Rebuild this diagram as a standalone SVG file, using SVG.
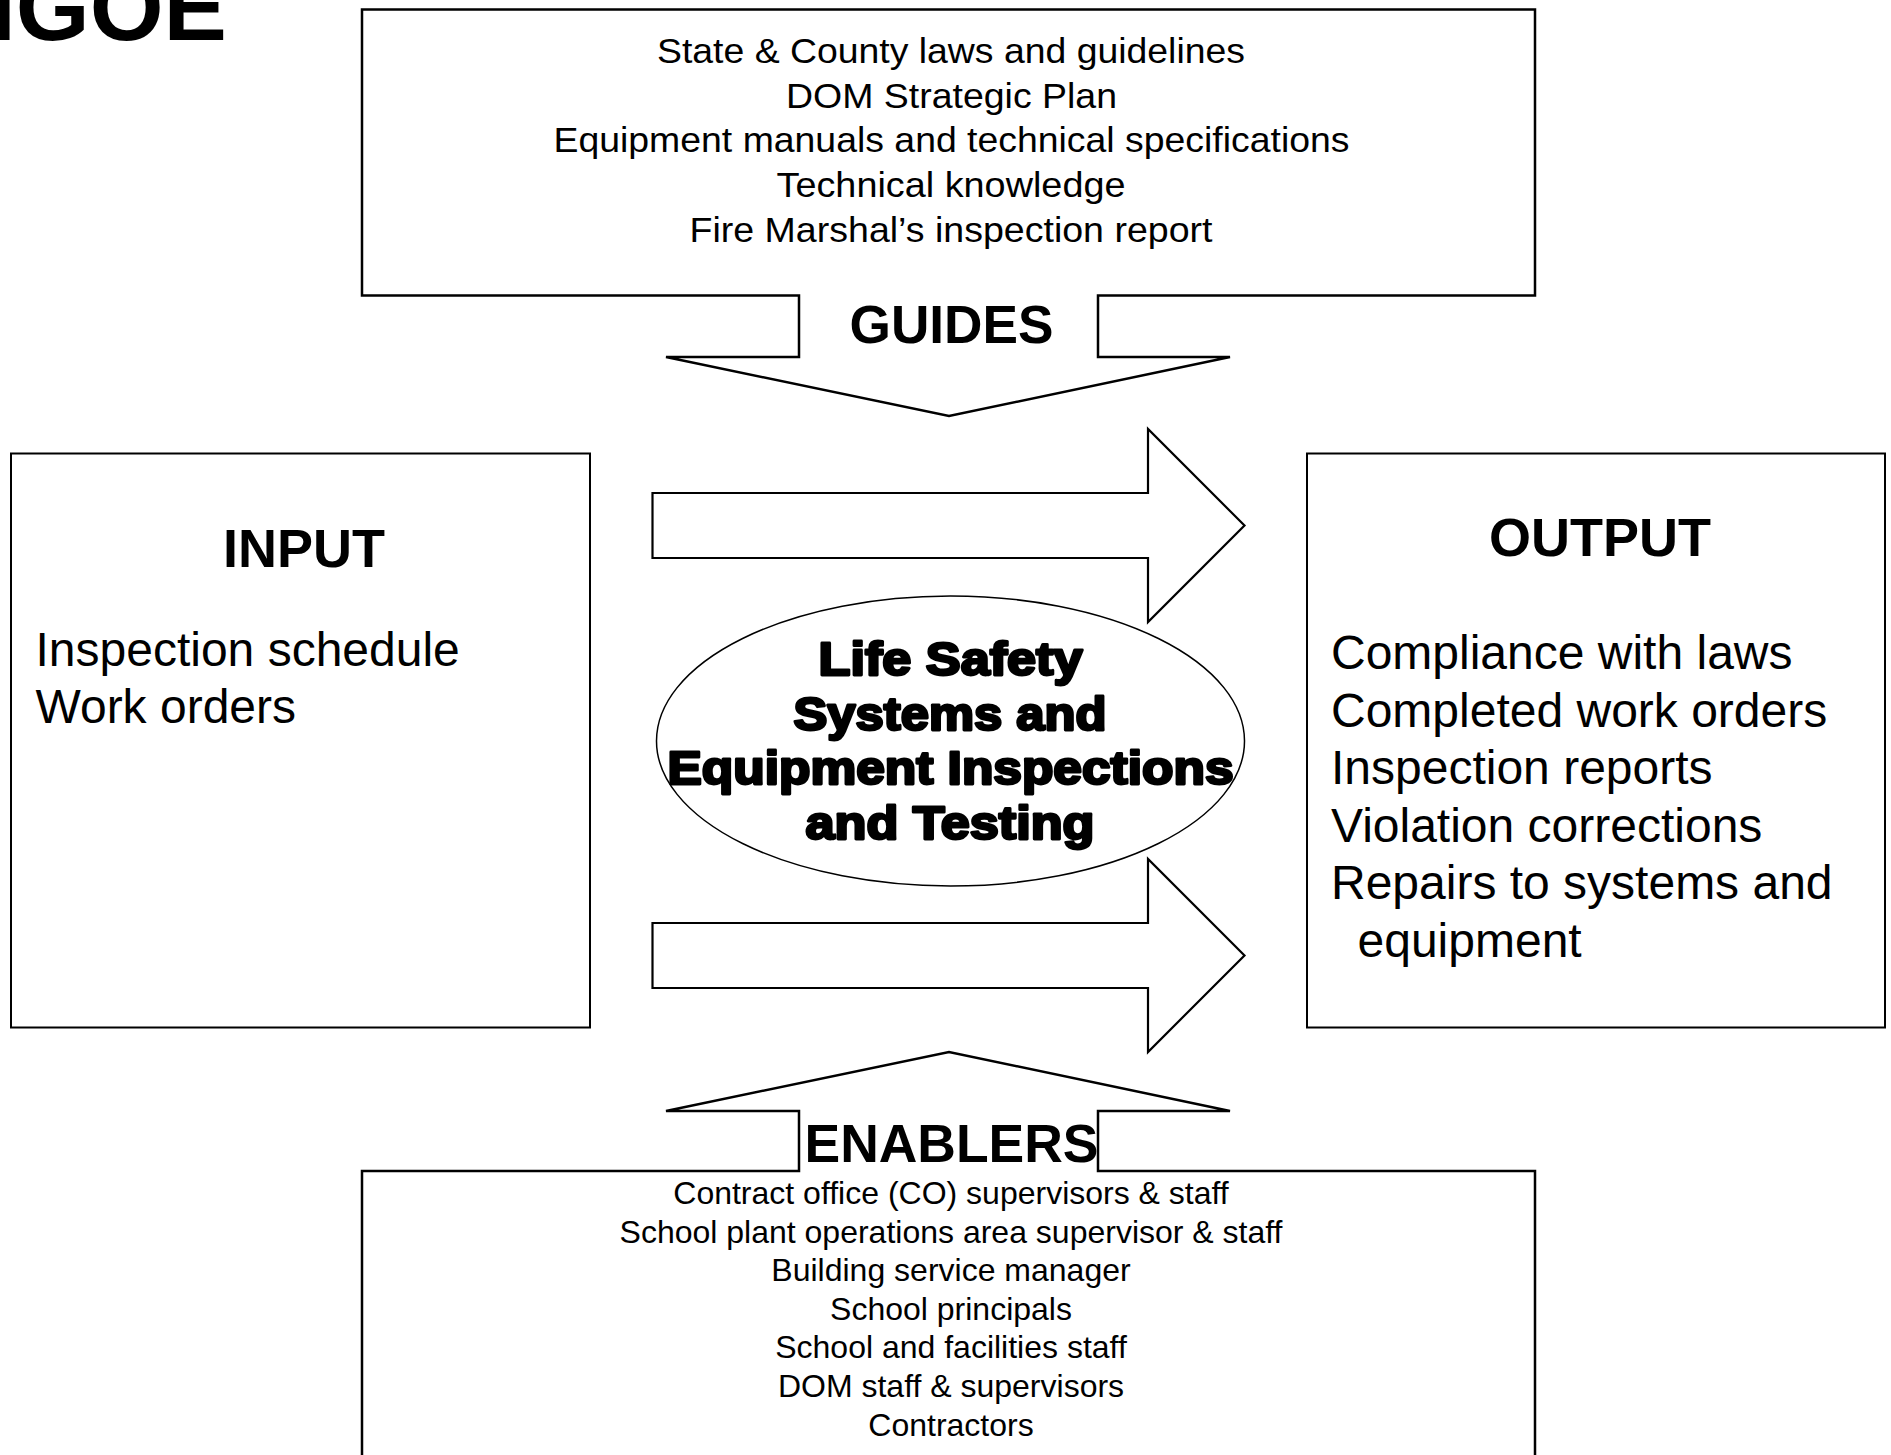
<svg xmlns="http://www.w3.org/2000/svg" width="1891" height="1455" viewBox="0 0 1891 1455">
  <style>
    text { font-family: "Liberation Sans", Arial, Helvetica, sans-serif; fill: #000; }
    .c { text-anchor: middle; }
    .b { font-weight: bold; }
    .frame { fill: #fff; stroke: #000; stroke-width: 2.5; stroke-linejoin: miter; }
    .box { fill: #fff; stroke: #000; stroke-width: 2; }
    .arrow { fill: #fff; stroke: #000; stroke-width: 2.2; stroke-linejoin: miter; }
    .oval { fill: #fff; stroke: #000; stroke-width: 1.5; }
    .guide { font-size: 35px; }
    .enab { font-size: 32px; }
    .item { font-size: 48px; }
    .title { font-size: 54px; font-weight: bold; }
    .heavy { font-size: 47px; font-weight: bold; stroke: #000; stroke-width: 2.8; stroke-linejoin: round; }
  </style>
  <rect x="0" y="0" width="1891" height="1455" fill="#fff"/>

  <g id="page-title">
    <text x="-10.6" y="40" class="b" font-size="95">IGOE</text>
  </g>

  <g id="connectors">
    <polygon class="arrow" points="652.5,493 1148,493 1148,429 1244.5,525.5 1148,622 1148,558 652.5,558"/>
    <polygon class="arrow" points="652.5,923 1148,923 1148,859 1244.5,955.5 1148,1052 1148,988 652.5,988"/>
  </g>

  <g id="guides">
    <polygon class="frame" points="362,9.6 1535,9.6 1535,295.5 1098,295.5 1098,357 1230,357 949,416 666,357 799,357 799,295.5 362,295.5"/>
    <text class="guide c" x="951" y="63" textLength="588" lengthAdjust="spacingAndGlyphs">State &amp; County laws and guidelines</text>
    <text class="guide c" x="951.5" y="107.7" textLength="331" lengthAdjust="spacingAndGlyphs">DOM Strategic Plan</text>
    <text class="guide c" x="951.5" y="152.4" textLength="796" lengthAdjust="spacingAndGlyphs">Equipment manuals and technical specifications</text>
    <text class="guide c" x="951" y="197.1" textLength="349" lengthAdjust="spacingAndGlyphs">Technical knowledge</text>
    <text class="guide c" x="951" y="241.8" textLength="523" lengthAdjust="spacingAndGlyphs">Fire Marshal’s inspection report</text>
    <text class="title c" x="951.5" y="342.5" textLength="204" lengthAdjust="spacingAndGlyphs">GUIDES</text>
  </g>

  <g id="input">
    <rect class="box" x="11" y="453.5" width="579" height="574"/>
    <text class="title c" x="304" y="567">INPUT</text>
    <text class="item" x="35.5" y="666">Inspection schedule</text>
    <text class="item" x="35.5" y="723">Work orders</text>
  </g>

  <g id="output">
    <rect class="box" x="1307" y="453.5" width="578" height="574"/>
    <text class="title c" x="1600" y="556" font-size="49">OUTPUT</text>
    <text class="item" x="1331" y="669">Compliance with laws</text>
    <text class="item" x="1331" y="726.5">Completed work orders</text>
    <text class="item" x="1331" y="784">Inspection reports</text>
    <text class="item" x="1331" y="841.5">Violation corrections</text>
    <text class="item" x="1331" y="899">Repairs to systems and</text>
    <text class="item" x="1357.5" y="956.5">equipment</text>
  </g>

  <g id="process">
    <ellipse class="oval" cx="950.5" cy="741" rx="294" ry="145"/>
    <text class="heavy c" x="950.5" y="675" textLength="264" lengthAdjust="spacingAndGlyphs">Life Safety</text>
    <text class="heavy c" x="950" y="729.5" textLength="313" lengthAdjust="spacingAndGlyphs">Systems and</text>
    <text class="heavy c" x="950.5" y="784" textLength="566" lengthAdjust="spacingAndGlyphs">Equipment Inspections</text>
    <text class="heavy c" x="950" y="838.5" textLength="289" lengthAdjust="spacingAndGlyphs">and Testing</text>
  </g>

  <g id="enablers">
    <polygon class="frame" points="362,1171 799,1171 799,1111 666,1111 949,1052 1230,1111 1098,1111 1098,1171 1535,1171 1535,1470 362,1470"/>
    <text class="title c" x="951.5" y="1161.5" textLength="294" lengthAdjust="spacingAndGlyphs">ENABLERS</text>
    <text class="enab c" x="951" y="1204">Contract office (CO) supervisors &amp; staff</text>
    <text class="enab c" x="951" y="1242.6">School plant operations area supervisor &amp; staff</text>
    <text class="enab c" x="951" y="1281.2">Building service manager</text>
    <text class="enab c" x="951" y="1319.8">School principals</text>
    <text class="enab c" x="951" y="1358.4">School and facilities staff</text>
    <text class="enab c" x="951" y="1397">DOM staff &amp; supervisors</text>
    <text class="enab c" x="951" y="1435.6">Contractors</text>
  </g>
</svg>
